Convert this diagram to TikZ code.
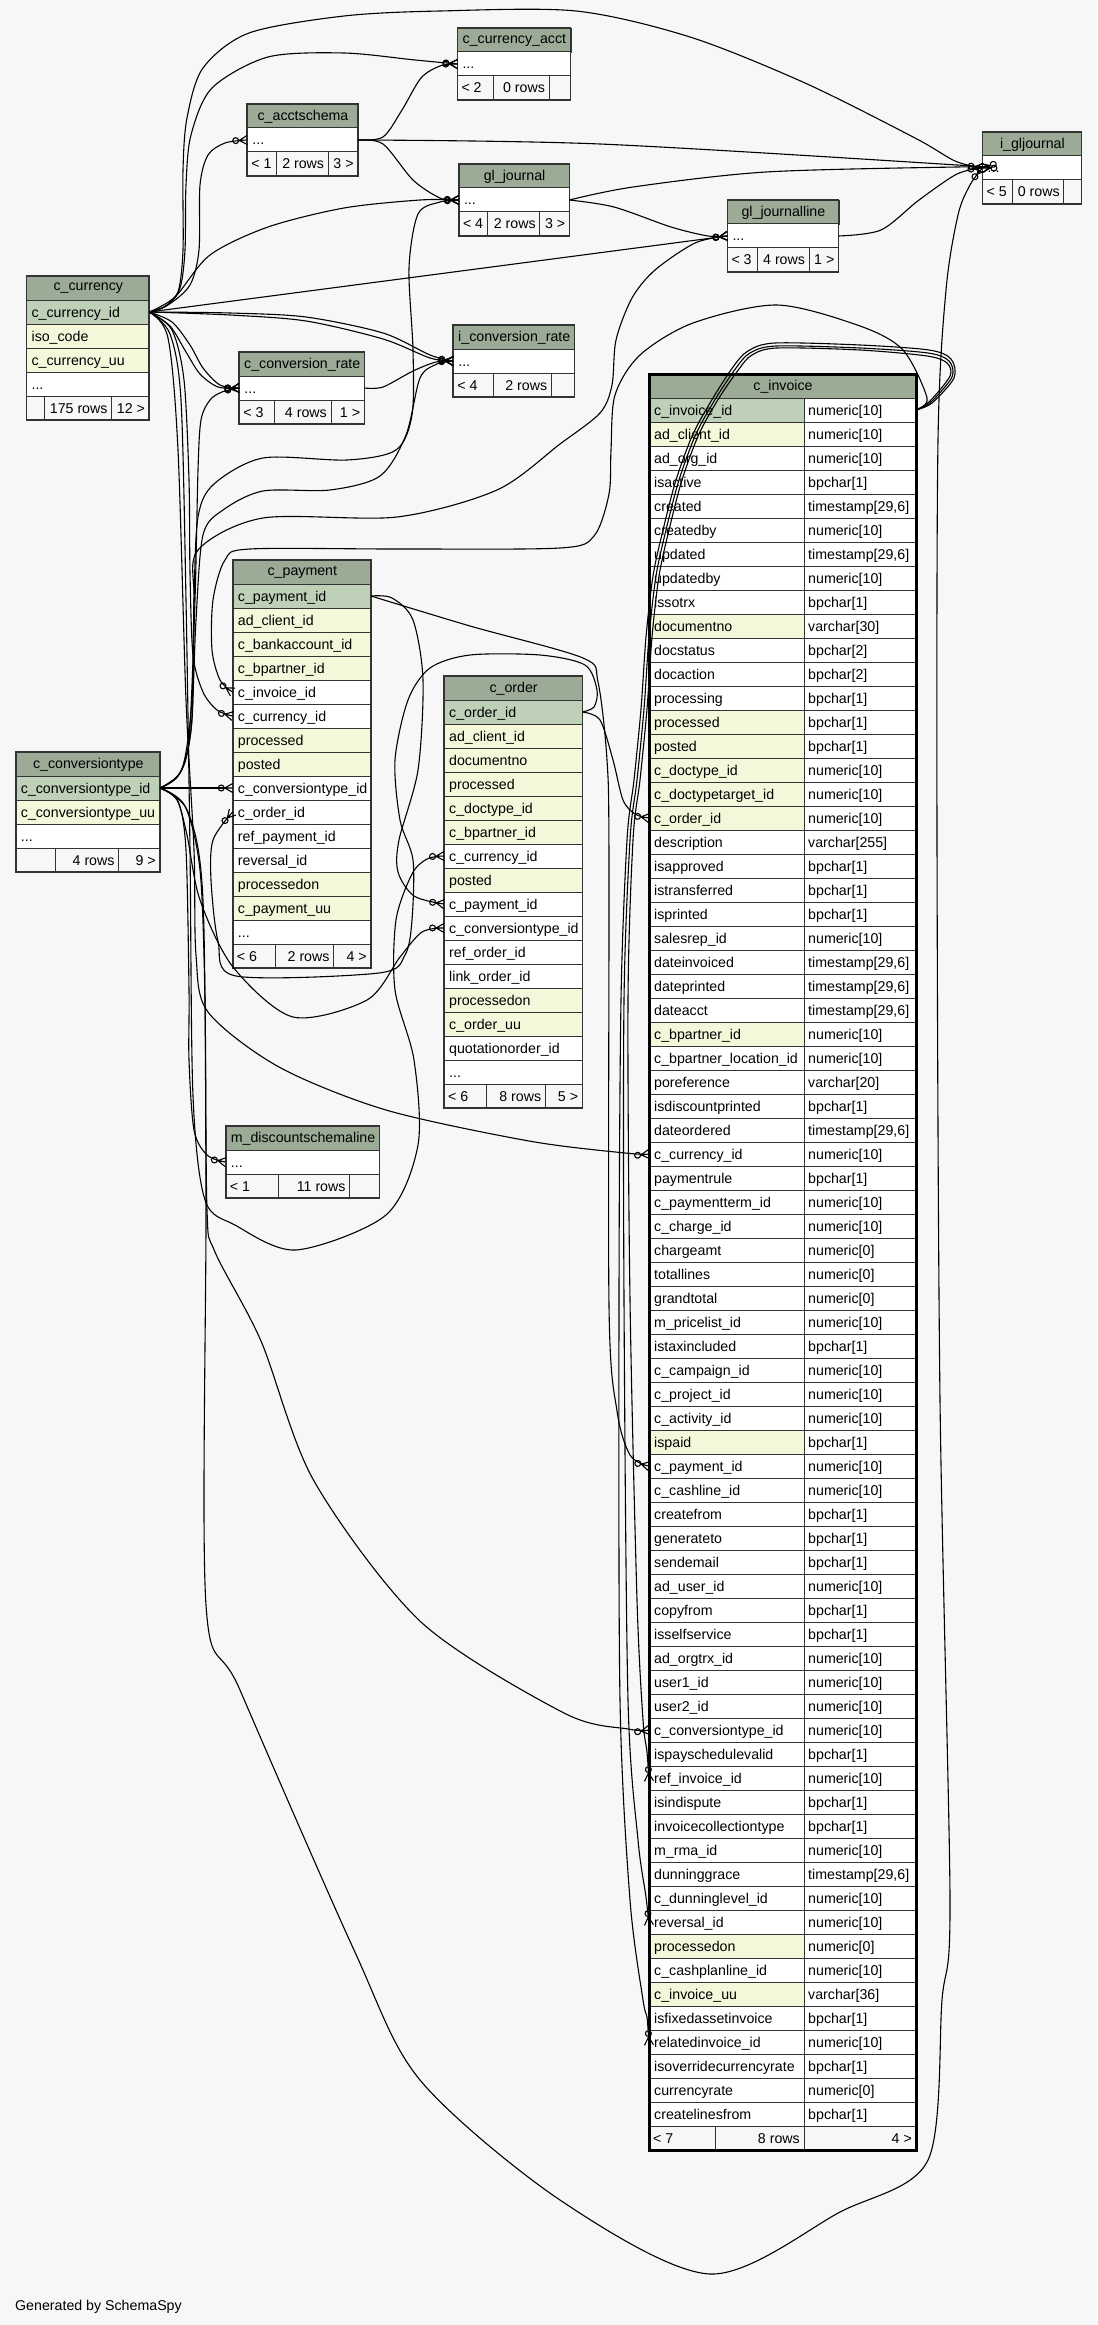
\documentclass[tikz,border=0pt]{standalone}
\usepackage{fontspec}
\setmainfont{Liberation Sans}
\usetikzlibrary{arrows.meta}
\definecolor{bgc}{HTML}{F7F7F7}
\definecolor{hdrc}{HTML}{9BAB96}
\definecolor{pkc}{HTML}{BED1B8}
\definecolor{ixc}{HTML}{F4F7DA}
\definecolor{linec}{HTML}{333333}

\pgfdeclarearrow{
  name = Crow,
  parameters = {\the\pgfarrowlength,\the\pgfarrowwidth},
  setup code = {
    \pgfarrowssettipend{0pt}
    \pgfarrowssetlineend{-\pgfarrowlength}
    \pgfarrowssetbackend{-\pgfarrowlength}
    \pgfarrowssavethe\pgfarrowlength
    \pgfarrowssavethe\pgfarrowwidth
  },
  drawing code = {
    \pgfpathmoveto{\pgfqpoint{0pt}{.5\pgfarrowwidth}}
    \pgfpathlineto{\pgfqpoint{-\pgfarrowlength}{0pt}}
    \pgfpathlineto{\pgfqpoint{0pt}{-.5\pgfarrowwidth}}
    \pgfpathmoveto{\pgfqpoint{-\pgfarrowlength}{0pt}}
    \pgfpathlineto{\pgfqpoint{0pt}{0pt}}
    \pgfusepathqstroke
  },
  defaults = {length = 8pt, width = 9pt}
}

\tikzset{
  txt/.style={inner sep=0pt, font=\fontsize{14.2}{16}\selectfont, text=black},
  hdr/.style={txt, draw=linec, line width=1pt, fill=hdrc, minimum height=24pt},
  rowpk/.style={fill=pkc}, rowix/.style={fill=ixc}, rowpl/.style={fill=white}, rowft/.style={fill=bgc},
  cellb/.style={draw=linec, line width=1pt},
  tframe/.style={draw=linec, line width=1.6pt},
  fk/.style={draw=black, line width=1.1pt, -{Circle[open,length=7pt,width=7pt]Crow[length=8pt,width=9pt]}},
}

% header: name, x1, x2, ytop, title
\newcommand\Thd[5]{\node[hdr, anchor=north west, minimum width={#3-#2}] (#1) at (#2,#4) {#5};}
% row: name, x1, x2, ytop, style, text
\newcommand\Trw[6]{\path[#5,cellb] (#2,#4) rectangle (#3,#4+24); \node[txt,anchor=base west] (#1) at (#2+5,#4+17) {#6};}
% footer: name, x1, d1, d2, x2, ytop, left, mid, right
\newcommand\Tft[9]{%
  \path[rowft,cellb] (#2,#6) rectangle (#3,#6+24);
  \path[rowft,cellb] (#3,#6) rectangle (#4,#6+24);
  \path[rowft,cellb] (#4,#6) rectangle (#5,#6+24);
  \node[txt,anchor=base west] (#1-fa) at (#2+4,#6+17) {#7};
  \node[txt,anchor=base east] (#1-fb) at (#4-4,#6+17) {#8};
  \node[txt,anchor=base east] (#1-fc) at (#5-4,#6+17) {#9};}
% frame: x1, x2, ytop, ybot
\newcommand\Tfr[4]{\draw[tframe] (#1,#3) rectangle (#2,#4);}
% c_invoice row: index, style, name, type
\newcommand\Irw[4]{%
  \pgfmathsetmacro\ry{398+24*#1}%
  \path[#2,cellb] (649,\ry) rectangle (804,\ry+24);
  \path[rowpl,cellb] (804,\ry) rectangle (916,\ry+24);
  \node[txt,anchor=base west] (inv-n#1) at (654,\ry+17) {#3};
  \node[txt,anchor=base west] (inv-t#1) at (808,\ry+17) {#4};}
\newcommand\TSx{timestamp[29,6]}

\begin{document}
\begin{tikzpicture}[x=1pt,y=-1pt]
\useasboundingbox (0,0) rectangle (1097,2325);
\fill[bgc] (0,0) rectangle (1097,2325);

% ---------- c_currency ----------
\Thd{cur}{26.4}{149.2}{276}{c\_currency}
\Trw{cur-r1}{26.4}{149.2}{300}{rowpk}{c\_currency\_id}
\Trw{cur-r2}{26.4}{149.2}{324}{rowix}{iso\_code}
\Trw{cur-r3}{26.4}{149.2}{348}{rowix}{c\_currency\_uu}
\Trw{cur-r4}{26.4}{149.2}{372}{rowpl}{...}
\Tft{cur}{26.4}{44.4}{111.7}{149.2}{396}{}{175 rows}{12 >}
\Tfr{26.4}{149.2}{276}{420}

% ---------- c_currency_acct ----------
\Thd{cacct}{457.3}{570.5}{28}{c\_currency\_acct}
\Trw{cacct-r1}{457.3}{570.5}{52}{rowpl}{...}
\Tft{cacct}{457.3}{493.2}{549.1}{570.5}{76}{< 2}{0 rows}{}
\Tfr{457.3}{570.5}{28}{100}

% ---------- c_acctschema ----------
\Thd{acs}{247.2}{357.8}{104}{c\_acctschema}
\Trw{acs-r1}{247.2}{357.8}{128}{rowpl}{...}
\Tft{acs}{247.2}{276.3}{328.3}{357.8}{152}{< 1}{2 rows}{3 >}
\Tfr{247.2}{357.8}{104}{176}

% ---------- gl_journal ----------
\Thd{glj}{458.8}{569.4}{164}{gl\_journal}
\Trw{glj-r1}{458.8}{569.4}{188}{rowpl}{...}
\Tft{glj}{458.8}{487.9}{539.9}{569.4}{212}{< 4}{2 rows}{3 >}
\Tfr{458.8}{569.4}{164}{236}

% ---------- c_conversion_rate ----------
\Thd{ccr}{239.2}{364.3}{352}{c\_conversion\_rate}
\Trw{ccr-r1}{239.2}{364.3}{376}{rowpl}{...}
\Tft{ccr}{239.2}{274.8}{331}{364.3}{400}{< 3}{4 rows}{1 >}
\Tfr{239.2}{364.3}{352}{424}

% ---------- i_conversion_rate ----------
\Thd{icr}{453.1}{574.4}{325}{i\_conversion\_rate}
\Trw{icr-r1}{453.1}{574.4}{349}{rowpl}{...}
\Tft{icr}{453.1}{493.3}{551.4}{574.4}{373}{< 4}{2 rows}{}
\Tfr{453.1}{574.4}{325}{397}

% ---------- i_gljournal ----------
\Thd{igj}{982.4}{1081.4}{132}{i\_gljournal}
\Trw{igj-r1}{982.4}{1081.4}{156}{rowpl}{...}
\Tft{igj}{982.4}{1012.1}{1063.9}{1081.4}{180}{< 5}{0 rows}{}
\Tfr{982.4}{1081.4}{132}{204}

% ---------- gl_journalline ----------
\Thd{gjl}{727.3}{838.5}{200}{gl\_journalline}
\Trw{gjl-r1}{727.3}{838.5}{224}{rowpl}{...}
\Tft{gjl}{727.3}{757.4}{809.2}{838.5}{248}{< 3}{4 rows}{1 >}
\Tfr{727.3}{838.5}{200}{272}

% ---------- c_conversiontype ----------
\Thd{ct}{15.7}{160}{752}{c\_conversiontype}
\Trw{ct-r1}{15.7}{160}{776}{rowpk}{c\_conversiontype\_id}
\Trw{ct-r2}{15.7}{160}{800}{rowix}{c\_conversiontype\_uu}
\Trw{ct-r3}{15.7}{160}{824}{rowpl}{...}
\Tft{ct}{15.7}{55.7}{118.7}{160}{848}{}{4 rows}{9 >}
\Tfr{15.7}{160}{752}{872}

% ---------- c_payment ----------
\Thd{pay}{232.7}{371}{560}{c\_payment}
\Trw{pay-r1}{232.7}{371}{584}{rowpk}{c\_payment\_id}
\Trw{pay-r2}{232.7}{371}{608}{rowix}{ad\_client\_id}
\Trw{pay-r3}{232.7}{371}{632}{rowix}{c\_bankaccount\_id}
\Trw{pay-r4}{232.7}{371}{656}{rowix}{c\_bpartner\_id}
\Trw{pay-r5}{232.7}{371}{680}{rowpl}{c\_invoice\_id}
\Trw{pay-r6}{232.7}{371}{704}{rowpl}{c\_currency\_id}
\Trw{pay-r7}{232.7}{371}{728}{rowix}{processed}
\Trw{pay-r8}{232.7}{371}{752}{rowix}{posted}
\Trw{pay-r9}{232.7}{371}{776}{rowpl}{c\_conversiontype\_id}
\Trw{pay-r10}{232.7}{371}{800}{rowpl}{c\_order\_id}
\Trw{pay-r11}{232.7}{371}{824}{rowpl}{ref\_payment\_id}
\Trw{pay-r12}{232.7}{371}{848}{rowpl}{reversal\_id}
\Trw{pay-r13}{232.7}{371}{872}{rowix}{processedon}
\Trw{pay-r14}{232.7}{371}{896}{rowix}{c\_payment\_uu}
\Trw{pay-r15}{232.7}{371}{920}{rowpl}{...}
\Tft{pay}{232.7}{275}{333.7}{371}{944}{< 6}{2 rows}{4 >}
\Tfr{232.7}{371}{560}{968}

% ---------- c_order ----------
\Thd{ord}{444}{582.3}{676}{c\_order}
\Trw{ord-r1}{444}{582.3}{700}{rowpk}{c\_order\_id}
\Trw{ord-r2}{444}{582.3}{724}{rowix}{ad\_client\_id}
\Trw{ord-r3}{444}{582.3}{748}{rowix}{documentno}
\Trw{ord-r4}{444}{582.3}{772}{rowix}{processed}
\Trw{ord-r5}{444}{582.3}{796}{rowix}{c\_doctype\_id}
\Trw{ord-r6}{444}{582.3}{820}{rowix}{c\_bpartner\_id}
\Trw{ord-r7}{444}{582.3}{844}{rowpl}{c\_currency\_id}
\Trw{ord-r8}{444}{582.3}{868}{rowix}{posted}
\Trw{ord-r9}{444}{582.3}{892}{rowpl}{c\_payment\_id}
\Trw{ord-r10}{444}{582.3}{916}{rowpl}{c\_conversiontype\_id}
\Trw{ord-r11}{444}{582.3}{940}{rowpl}{ref\_order\_id}
\Trw{ord-r12}{444}{582.3}{964}{rowpl}{link\_order\_id}
\Trw{ord-r13}{444}{582.3}{988}{rowix}{processedon}
\Trw{ord-r14}{444}{582.3}{1012}{rowix}{c\_order\_uu}
\Trw{ord-r15}{444}{582.3}{1036}{rowpl}{quotationorder\_id}
\Trw{ord-r16}{444}{582.3}{1060}{rowpl}{...}
\Tft{ord}{444}{486.8}{545.4}{582.3}{1084}{< 6}{8 rows}{5 >}
\Tfr{444}{582.3}{676}{1108}

% ---------- m_discountschemaline ----------
\Thd{mds}{225.7}{379.3}{1126}{m\_discountschemaline}
\Trw{mds-r1}{225.7}{379.3}{1150}{rowpl}{...}
\Tft{mds}{225.7}{278}{349.7}{379.3}{1174}{< 1}{11 rows}{}
\Tfr{225.7}{379.3}{1126}{1198}

% ---------- c_invoice ----------
\Thd{inv}{649}{916}{374}{c\_invoice}
\Irw{0}{rowpk}{c\_invoice\_id}{numeric[10]}
\Irw{1}{rowix}{ad\_client\_id}{numeric[10]}
\Irw{2}{rowpl}{ad\_org\_id}{numeric[10]}
\Irw{3}{rowpl}{isactive}{bpchar[1]}
\Irw{4}{rowpl}{created}{\TSx}
\Irw{5}{rowpl}{createdby}{numeric[10]}
\Irw{6}{rowpl}{updated}{\TSx}
\Irw{7}{rowpl}{updatedby}{numeric[10]}
\Irw{8}{rowpl}{issotrx}{bpchar[1]}
\Irw{9}{rowix}{documentno}{varchar[30]}
\Irw{10}{rowpl}{docstatus}{bpchar[2]}
\Irw{11}{rowpl}{docaction}{bpchar[2]}
\Irw{12}{rowpl}{processing}{bpchar[1]}
\Irw{13}{rowix}{processed}{bpchar[1]}
\Irw{14}{rowix}{posted}{bpchar[1]}
\Irw{15}{rowix}{c\_doctype\_id}{numeric[10]}
\Irw{16}{rowix}{c\_doctypetarget\_id}{numeric[10]}
\Irw{17}{rowix}{c\_order\_id}{numeric[10]}
\Irw{18}{rowpl}{description}{varchar[255]}
\Irw{19}{rowpl}{isapproved}{bpchar[1]}
\Irw{20}{rowpl}{istransferred}{bpchar[1]}
\Irw{21}{rowpl}{isprinted}{bpchar[1]}
\Irw{22}{rowpl}{salesrep\_id}{numeric[10]}
\Irw{23}{rowpl}{dateinvoiced}{\TSx}
\Irw{24}{rowpl}{dateprinted}{\TSx}
\Irw{25}{rowpl}{dateacct}{\TSx}
\Irw{26}{rowix}{c\_bpartner\_id}{numeric[10]}
\Irw{27}{rowpl}{c\_bpartner\_location\_id}{numeric[10]}
\Irw{28}{rowpl}{poreference}{varchar[20]}
\Irw{29}{rowpl}{isdiscountprinted}{bpchar[1]}
\Irw{30}{rowpl}{dateordered}{\TSx}
\Irw{31}{rowpl}{c\_currency\_id}{numeric[10]}
\Irw{32}{rowpl}{paymentrule}{bpchar[1]}
\Irw{33}{rowpl}{c\_paymentterm\_id}{numeric[10]}
\Irw{34}{rowpl}{c\_charge\_id}{numeric[10]}
\Irw{35}{rowpl}{chargeamt}{numeric[0]}
\Irw{36}{rowpl}{totallines}{numeric[0]}
\Irw{37}{rowpl}{grandtotal}{numeric[0]}
\Irw{38}{rowpl}{m\_pricelist\_id}{numeric[10]}
\Irw{39}{rowpl}{istaxincluded}{bpchar[1]}
\Irw{40}{rowpl}{c\_campaign\_id}{numeric[10]}
\Irw{41}{rowpl}{c\_project\_id}{numeric[10]}
\Irw{42}{rowpl}{c\_activity\_id}{numeric[10]}
\Irw{43}{rowix}{ispaid}{bpchar[1]}
\Irw{44}{rowpl}{c\_payment\_id}{numeric[10]}
\Irw{45}{rowpl}{c\_cashline\_id}{numeric[10]}
\Irw{46}{rowpl}{createfrom}{bpchar[1]}
\Irw{47}{rowpl}{generateto}{bpchar[1]}
\Irw{48}{rowpl}{sendemail}{bpchar[1]}
\Irw{49}{rowpl}{ad\_user\_id}{numeric[10]}
\Irw{50}{rowpl}{copyfrom}{bpchar[1]}
\Irw{51}{rowpl}{isselfservice}{bpchar[1]}
\Irw{52}{rowpl}{ad\_orgtrx\_id}{numeric[10]}
\Irw{53}{rowpl}{user1\_id}{numeric[10]}
\Irw{54}{rowpl}{user2\_id}{numeric[10]}
\Irw{55}{rowpl}{c\_conversiontype\_id}{numeric[10]}
\Irw{56}{rowpl}{ispayschedulevalid}{bpchar[1]}
\Irw{57}{rowpl}{ref\_invoice\_id}{numeric[10]}
\Irw{58}{rowpl}{isindispute}{bpchar[1]}
\Irw{59}{rowpl}{invoicecollectiontype}{bpchar[1]}
\Irw{60}{rowpl}{m\_rma\_id}{numeric[10]}
\Irw{61}{rowpl}{dunninggrace}{\TSx}
\Irw{62}{rowpl}{c\_dunninglevel\_id}{numeric[10]}
\Irw{63}{rowpl}{reversal\_id}{numeric[10]}
\Irw{64}{rowix}{processedon}{numeric[0]}
\Irw{65}{rowpl}{c\_cashplanline\_id}{numeric[10]}
\Irw{66}{rowix}{c\_invoice\_uu}{varchar[36]}
\Irw{67}{rowpl}{isfixedassetinvoice}{bpchar[1]}
\Irw{68}{rowpl}{relatedinvoice\_id}{numeric[10]}
\Irw{69}{rowpl}{isoverridecurrencyrate}{bpchar[1]}
\Irw{70}{rowpl}{currencyrate}{numeric[0]}
\Irw{71}{rowpl}{createlinesfrom}{bpchar[1]}
\Tft{inv}{649}{715.7}{804}{916}{2126}{< 7}{8 rows}{4 >}
\draw[draw=black, line width=3pt] (649,374) rectangle (916,2150);

\node[txt, anchor=base west] (gen) at (15,2310) {Generated by SchemaSpy};

% ---------- ports ----------
\coordinate (cur-pk) at (149.2,312);
\coordinate (ct-pk) at (160,788);
\coordinate (inv-pk) at (916,410);
\coordinate (pay-pk) at (371,596);
\coordinate (ord-pk) at (582.3,712);
\coordinate (acs-r) at (357.8,140);
\coordinate (glj-r) at (569.4,200);
\coordinate (gjl-r) at (838.5,236);
\coordinate (ccr-r) at (364.3,388);
\coordinate (cacct-l) at (457.3,64);
\coordinate (acs-l) at (247.2,140);
\coordinate (glj-l) at (458.8,200);
\coordinate (gjl-l) at (727.3,236);
\coordinate (igj-l) at (982.4,168);
\coordinate (icr-l) at (453.1,361);
\coordinate (ccr-l) at (239.2,388);
\coordinate (pay-inv) at (232.7,692);
\coordinate (pay-cur) at (232.7,716);
\coordinate (pay-ct) at (232.7,788);
\coordinate (pay-ord) at (232.7,812);
\coordinate (ord-cur) at (444,856);
\coordinate (ord-pay) at (444,904);
\coordinate (ord-ct) at (444,928);
\coordinate (inv-ord) at (649,818);
\coordinate (inv-cur) at (649,1154);
\coordinate (inv-pay) at (649,1466);
\coordinate (inv-ct) at (649,1730);
\coordinate (inv-ref) at (649,1781);
\coordinate (inv-rev) at (649,1925);
\coordinate (inv-rel) at (649,2045);
\coordinate (mds-l) at (225.7,1162);

% ---------- connectors from c_currency ----------
\draw[fk] plot[smooth] coordinates {(cur-pk) (166,306) (180,288) (185,250) (186,185) (191,135) (212,88) (268,57) (344,53) (415,60) (cacct-l)};
\draw[fk] plot[smooth] coordinates {(cur-pk) (164,307) (178,292) (183,250) (183,170) (187,118) (203,68) (249,33) (344,16) (440,11) (576,11) (690,37) (805,83) (915,138) (955,161) (igj-l)};
\draw[fk] plot[smooth] coordinates {(cur-pk) (168,305) (190,285) (199,250) (200,185) (208,155) (225,143) (acs-l)};
\draw[fk] plot[smooth] coordinates {(cur-pk) (175,297) (210,255) (268,227) (344,208) (420,200) (glj-l)};
\draw[fk] (cur-pk) -- (gjl-l);
\draw[fk] plot[smooth] coordinates {(cur-pk) (230,315) (306,321) (383,339) (430,358) (icr-l)};
\draw[fk] plot[smooth] coordinates {(cur-pk) (230,313) (306,317) (383,333) (430,355) (icr-l)};
\draw[fk] plot[smooth] coordinates {(cur-pk) (172,322) (190,345) (203,368) (220,385) (ccr-l)};
\draw[fk] plot[smooth] coordinates {(cur-pk) (170,326) (186,352) (200,374) (218,387) (ccr-l)};
\draw[fk] plot[smooth] coordinates {(cur-pk) (172,330) (184,380) (189,480) (190,573) (193,655) (203,692) (217,710) (pay-cur)};
\draw[fk] plot[smooth] coordinates {(cur-pk) (170,334) (181,400) (186,600) (190,850) (193,1096) (205,1200) (235,1225) (296,1250) (386,1215) (418,1145) (414,1060) (395,990) (396,920) (412,874) (427,859) (ord-cur)};
\draw[fk] plot[smooth] coordinates {(cur-pk) (168,338) (178,450) (186,700) (194,850) (196,955) (208,1012) (279,1067) (386,1110) (529,1141) (625,1153) (inv-cur)};

% ---------- connectors from c_conversiontype ----------
\draw[fk] (ct-pk) -- (pay-ct);
\draw[fk] plot[smooth] coordinates {(ct-pk) (178,776) (189,740) (195,600) (198,470) (201,420) (210,400) (222,392) (ccr-l)};
\draw[fk] plot[smooth] coordinates {(ct-pk) (180,773) (191,730) (196,620) (203,535) (223,510) (263,491) (330,490) (380,476) (406,435) (420,378) (437,364) (icr-l)};
\draw[fk] plot[smooth] coordinates {(ct-pk) (181,771) (192,720) (194,600) (198,517) (214,484) (263,458) (347,460) (396,450) (412,415) (413,350) (409,268) (418,214) (440,202) (glj-l)};
\draw[fk] plot[smooth] coordinates {(ct-pk) (182,769) (192,700) (194,600) (198,550) (263,518) (397,517) (497,490) (560,444) (600,413) (612,385) (616,340) (632,298) (655,270) (695,243) (gjl-l)};
\draw[fk] plot[smooth] coordinates {(ct-pk) (177,800) (187,835) (200,900) (233,967) (293,1017) (367,1000) (400,957) (422,932) (ord-ct)};
\draw[fk] plot[smooth] coordinates {(ct-pk) (178,801) (186,850) (189,990) (189,1060) (194,1130) (207,1155) (mds-l)};
\draw[fk] plot[smooth] coordinates {(ct-pk) (185,806) (200,870) (205,1000) (207,1210) (215,1252) (261,1341) (314,1481) (421,1622) (564,1713) (628,1729) (inv-ct)};
\draw[fk] plot[smooth] coordinates {(ct-pk) (188,812) (203,900) (206,1200) (206,1605) (240,1690) (354,1950) (420,2080) (560,2200) (710,2274) (840,2212) (928,2160) (942,2000) (950,1900) (940,1400) (937,840) (938,440) (946,290) (958,215) (970,185) (igj-l)};

% ---------- other connectors ----------
\draw[fk] plot[smooth] coordinates {(acs-r) (383,137) (402,110) (421,78) (440,66) (cacct-l)};
\draw[fk] plot[smooth] coordinates {(acs-r) (383,144) (413,180) (440,198) (glj-l)};
\draw[fk] plot[smooth] coordinates {(acs-r) (600,144) (957,165) (igj-l)};
\draw[fk] plot[smooth] coordinates {(glj-r) (633,187) (766,172) (957,167) (igj-l)};
\draw[fk] plot[smooth] coordinates {(glj-r) (614,207) (671,227) (708,236) (gjl-l)};
\draw[fk] plot[smooth] coordinates {(gjl-r) (881,230) (919,200) (957,174) (igj-l)};
\draw[fk] plot[smooth] coordinates {(ccr-r) (383,387) (413,371) (436,362) (icr-l)};
\draw[fk] plot[smooth] coordinates {(inv-pk) (927,398) (903,350) (860,326) (777,305) (693,323) (640,355) (615,395) (611,450) (609,494) (594,536) (560,548) (400,549) (250,549) (225,560) (213,600) (212,650) (220,680) (pay-inv)};
\draw[fk] plot[smooth] coordinates {(pay-pk) (392,598) (413,620) (423,680) (418,770) (399,840) (398,872) (414,896) (ord-pay)};
\draw[fk] plot[smooth] coordinates {(pay-pk) (470,626) (583,658) (598,682) (607,760) (609,860) (609,1306) (617,1411) (630,1455) (inv-pay)};
\draw[fk] plot[smooth] coordinates {(ord-pk) (594,707) (597,690) (585,665) (540,655) (470,655) (430,668) (408,700) (395,760) (400,820) (413,860) (412,920) (405,955) (379,973) (236,976) (218,941) (211,880) (213,840) (pay-ord)};
\draw[fk] plot[smooth] coordinates {(ord-pk) (600,720) (613,760) (623,800) (635,814) (inv-ord)};
\draw[fk] plot[smooth] coordinates {(inv-pk) (930,401) (950,376) (947,363) (927,356) (860,350) (777,348) (752,355) (739,369) (719,398) (699,434) (682,480) (669,530) (659,576) (652,637) (647,709) (640,780) (633,840) (628,1000) (630,1300) (637,1600) (643,1720) (647,1752) (inv-ref)};
\draw[fk] plot[smooth] coordinates {(inv-pk) (931,402) (952,377) (949,361) (928,353) (860,348) (776,346) (750,353) (736,368) (716,398) (696,434) (679,480) (666,530) (656,576) (649,637) (644,709) (637,780) (630,840) (624,1000) (624,1300) (628,1700) (638,1840) (646,1897) (inv-rev)};
\draw[fk] plot[smooth] coordinates {(inv-pk) (932,403) (954,378) (951,359) (929,350) (860,345) (775,343) (748,351) (733,367) (713,398) (693,434) (676,480) (663,530) (653,576) (646,637) (641,709) (634,780) (627,840) (621,1000) (619,1300) (620,1700) (630,1900) (643,2000) (647,2017) (inv-rel)};
\end{tikzpicture}
\end{document}
